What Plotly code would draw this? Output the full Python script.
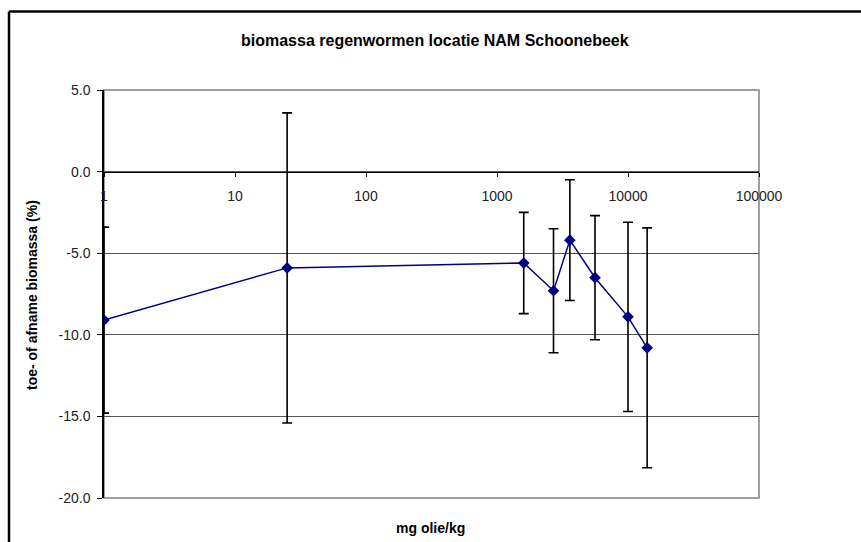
import plotly.graph_objects as go

# Data
olie_mg_kg = [1, 25, 1600, 2700, 3600, 5600, 10000, 14000]
biomassa_pct = [-9.1, -5.9, -5.6, -7.3, -4.2, -6.5, -8.9, -10.8]
fout = [5.7, 9.5, 3.1, 3.8, 3.7, 3.8, 5.8, 7.35]

x_tickvals = [1, 10, 100, 1000, 10000, 100000]
x_ticktext = ["1", "10", "100", "1000", "10000", "100000"]
y_tickvals = [5, 0, -5, -10, -15, -20]
y_ticktext = ["5.0", "0.0", "-5.0", "-10.0", "-15.0", "-20.0"]

W, H = 861, 542
xd = [104 / W, 759 / W]
yd = [(H - 498) / H, (H - 90) / H]
ypos0 = yd[0] + (yd[1] - yd[0]) * (20 / 25)

FONT = "Liberation Sans, Arial, sans-serif"

fig = go.Figure()
fig.add_trace(go.Scatter(
    x=olie_mg_kg, y=biomassa_pct,
    mode="lines+markers",
    line=dict(color="#000080", width=1.5),
    marker=dict(symbol="diamond", size=9, color="#000080"),
    error_y=dict(type="data", array=fout, visible=True, color="black",
                 thickness=1.6, width=5),
    showlegend=False,
))

fig.update_layout(
    template="none",
    width=W, height=H,
    margin=dict(l=0, r=0, t=0, b=0, pad=0),
    paper_bgcolor="white", plot_bgcolor="white",
    font=dict(family=FONT, size=13, color="#222"),
    xaxis=dict(
        type="log", range=[0, 5], domain=xd, automargin=False,
        anchor="free", position=ypos0,
        tickvals=x_tickvals, ticktext=x_ticktext,
        ticks="outside", ticklen=4, tickcolor="black", tickwidth=1,
        showline=True, linecolor="black", linewidth=1,
        showgrid=False, zeroline=False,
        ticklabelstandoff=8,
        tickfont=dict(family=FONT, size=14, color="#222"),
    ),
    xaxis2=dict(
        type="log", range=[0, 5], domain=xd, automargin=False,
        anchor="free", position=ypos0, overlaying="x",
        tickvals=x_tickvals, showticklabels=False,
        ticks="inside", ticklen=4, tickcolor="black", tickwidth=1,
        showline=False, showgrid=False, zeroline=False,
    ),
    yaxis=dict(
        range=[-20, 5], domain=yd, automargin=False,
        tickvals=y_tickvals, ticktext=y_ticktext,
        ticks="outside", ticklen=5, tickcolor="black", tickwidth=1,
        showline=True, linecolor="black", linewidth=1.5,
        showgrid=True, gridcolor="#555555", gridwidth=1,
        zeroline=False,
        ticklabelstandoff=4,
        tickfont=dict(family=FONT, size=14, color="#222"),
    ),
    shapes=[
        dict(type="rect", xref="paper", yref="paper",
             x0=xd[0], x1=xd[1], y0=yd[0], y1=yd[1],
             line=dict(color="#808080", width=1.5), layer="below"),
        # outer chart frame (top and left edges visible in the crop)
        dict(type="line", xref="paper", yref="paper",
             x0=9 / W, x1=1.0, y0=(H - 11.5) / H, y1=(H - 11.5) / H,
             line=dict(color="black", width=2.5)),
        dict(type="line", xref="paper", yref="paper",
             x0=9 / W, x1=9 / W, y0=0.0, y1=(H - 11.5) / H,
             line=dict(color="black", width=2.5)),
    ],
    annotations=[
        dict(text="<b>biomassa regenwormen locatie NAM Schoonebeek</b>",
             xref="paper", yref="paper", x=435 / W, y=(H - 40) / H,
             showarrow=False, xanchor="center", yanchor="middle",
             font=dict(family=FONT, size=16, color="black")),
        dict(text="<b>mg olie/kg</b>",
             xref="paper", yref="paper", x=430 / W, y=(H - 528) / H,
             showarrow=False, xanchor="center", yanchor="middle",
             font=dict(family=FONT, size=14, color="black")),
        dict(text="<b>toe- of afname biomassa (%)</b>",
             xref="paper", yref="paper", x=32 / W, y=(H - 295) / H,
             showarrow=False, xanchor="center", yanchor="middle",
             textangle=-90,
             font=dict(family=FONT, size=14, color="black")),
    ],
)

fig.write_html("out.html")
